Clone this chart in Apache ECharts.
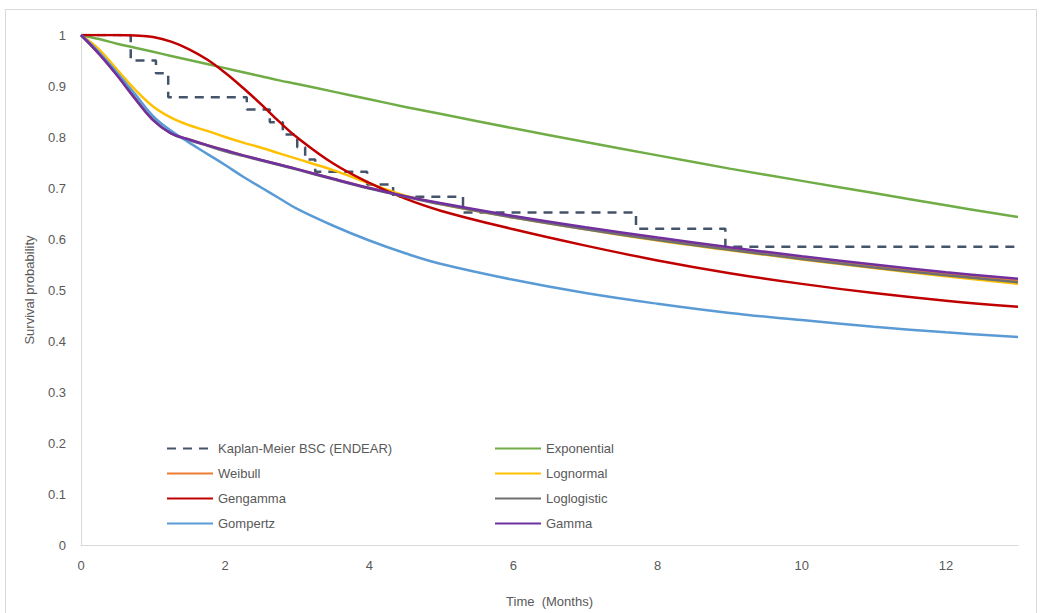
<!DOCTYPE html>
<html>
<head>
<meta charset="utf-8">
<script src="https://cdn.jsdelivr.net/npm/echarts@6/dist/echarts.min.js"></script>
<style>
  html, body { margin: 0; padding: 0; background: #ffffff; }
  #chart { width: 1041px; height: 613px; }
</style>
</head>
<body>
<div id="chart"></div>
<script>
// ---- Data ----
const kmTimes  = [0, 0.69, 1.04, 1.21, 2.30, 2.62, 2.80, 3.00, 3.11, 3.25, 3.97, 4.33, 5.30, 7.70, 8.94, 13];
const kmSurv   = [1, 0.950, 0.925, 0.878, 0.854, 0.829, 0.805, 0.780, 0.756, 0.732, 0.707, 0.683, 0.652, 0.620, 0.585, 0.585];

const fitTimes = [0, 0.25, 0.5, 0.75, 1, 1.25, 1.5, 1.75, 2, 2.25, 2.5, 2.75, 3, 3.5, 4, 4.5, 5, 6, 7, 8, 9, 10, 11, 12, 13];
const exponential = [1, 0.992, 0.983, 0.975, 0.967, 0.959, 0.951, 0.943, 0.935, 0.927, 0.919, 0.911, 0.904, 0.889, 0.874, 0.859, 0.845, 0.817, 0.790, 0.764, 0.738, 0.714, 0.690, 0.666, 0.643];
const weibull     = [1, 0.963, 0.921, 0.875, 0.833, 0.807, 0.795, 0.784, 0.774, 0.764, 0.755, 0.746, 0.737, 0.718, 0.700, 0.684, 0.669, 0.644, 0.621, 0.601, 0.582, 0.564, 0.548, 0.532, 0.518];
const lognormal   = [1, 0.972, 0.932, 0.893, 0.860, 0.838, 0.823, 0.812, 0.800, 0.789, 0.779, 0.768, 0.757, 0.735, 0.709, 0.685, 0.668, 0.642, 0.619, 0.597, 0.578, 0.560, 0.543, 0.527, 0.512];
const gengamma    = [1, 1.000, 1.000, 0.999, 0.996, 0.987, 0.972, 0.952, 0.926, 0.896, 0.864, 0.830, 0.799, 0.748, 0.710, 0.679, 0.655, 0.619, 0.587, 0.558, 0.533, 0.512, 0.494, 0.479, 0.467];
const loglogistic = [1, 0.964, 0.922, 0.877, 0.834, 0.807, 0.794, 0.783, 0.772, 0.763, 0.754, 0.745, 0.736, 0.717, 0.699, 0.683, 0.668, 0.642, 0.619, 0.598, 0.579, 0.561, 0.544, 0.529, 0.515];
const gompertz    = [1, 0.966, 0.926, 0.884, 0.841, 0.812, 0.789, 0.767, 0.745, 0.722, 0.701, 0.680, 0.659, 0.626, 0.597, 0.572, 0.551, 0.520, 0.494, 0.473, 0.455, 0.441, 0.428, 0.417, 0.408];
const gamma       = [1, 0.963, 0.921, 0.875, 0.833, 0.807, 0.795, 0.784, 0.774, 0.764, 0.755, 0.746, 0.737, 0.718, 0.700, 0.684, 0.670, 0.645, 0.623, 0.603, 0.584, 0.566, 0.550, 0.535, 0.522];

const xTicks = [0, 2, 4, 6, 8, 10, 12];
const yTicks = [0, 0.1, 0.2, 0.3, 0.4, 0.5, 0.6, 0.7, 0.8, 0.9, 1];

const names = {
  km: 'Kaplan-Meier BSC (ENDEAR)', exp: 'Exponential', wei: 'Weibull', logn: 'Lognormal',
  gg: 'Gengamma', ll: 'Loglogistic', gomp: 'Gompertz', gam: 'Gamma'
};

// ---- Build ----
const pair = (xs, ys) => xs.map((x, i) => [x, ys[i]]);
const FONT = 'Liberation Sans';
const TXT = '#595959';

function fit(name, color, ys) {
  return {
    name: name, type: 'line', data: pair(fitTimes, ys),
    smooth: 0.4, symbol: 'none', showSymbol: false,
    lineStyle: { color: color, width: 2.5 }, itemStyle: { color: color },
    emphasis: { disabled: true }, animation: false
  };
}

const legendBase = {
  orient: 'vertical', top: 442, itemWidth: 46, itemHeight: 14, itemGap: 12, padding: 0,
  itemStyle: { opacity: 0 },
  textStyle: { color: TXT, fontSize: 13, fontFamily: FONT },
  selectedMode: false
};

const chart = echarts.init(document.getElementById('chart'), null, { renderer: 'svg' });
chart.setOption({
  animation: false,
  backgroundColor: '#ffffff',
  textStyle: { fontFamily: FONT },
  graphic: [{
    type: 'rect', shape: { x: 5.5, y: 9.5, width: 1031, height: 610 },
    style: { fill: 'none', stroke: '#d9d9d9', lineWidth: 1 }, silent: true, z: -1
  }],
  grid: { left: 81, right: 23, top: 35, bottom: 68, containLabel: false },
  xAxis: {
    type: 'value', min: 0, max: 13, interval: 2,
    name: 'Time  (Months)', nameLocation: 'middle', nameGap: 50,
    nameTextStyle: { color: TXT, fontSize: 13, fontFamily: FONT },
    axisLine: { show: true, lineStyle: { color: '#d9d9d9', width: 1 } },
    axisTick: { show: false },
    splitLine: { show: false },
    axisLabel: {
      color: TXT, fontSize: 13, fontFamily: FONT, margin: 14,
      showMaxLabel: false,
      formatter: v => (xTicks.indexOf(v) >= 0 ? String(v) : '')
    }
  },
  yAxis: {
    type: 'value', min: 0, max: 1, interval: 0.1,
    name: 'Survival probability', nameLocation: 'middle', nameGap: 45,
    nameTextStyle: { color: TXT, fontSize: 13, fontFamily: FONT },
    axisLine: { show: true, lineStyle: { color: '#d9d9d9', width: 1 } },
    axisTick: { show: false },
    splitLine: { show: false },
    axisLabel: {
      color: TXT, fontSize: 13, fontFamily: FONT, margin: 15,
      formatter: v => {
        const t = yTicks.find(k => Math.abs(k - v) < 1e-6);
        return t === undefined ? '' : String(t);
      }
    }
  },
  legend: [
    Object.assign({}, legendBase, { left: 166, data: [names.km, names.wei, names.gg, names.gomp] }),
    Object.assign({}, legendBase, { left: 494, data: [names.exp, names.logn, names.ll, names.gam] })
  ],
  series: [
    {
      name: names.km, type: 'line', data: pair(kmTimes, kmSurv), step: 'end',
      symbol: 'none', showSymbol: false,
      lineStyle: { color: '#44546a', width: 2.5, type: [9, 7] }, itemStyle: { color: '#44546a' },
      emphasis: { disabled: true }, animation: false
    },
    fit(names.exp, '#70ad47', exponential),
    fit(names.wei, '#ed7d31', weibull),
    fit(names.logn, '#ffc000', lognormal),
    fit(names.gg, '#c00000', gengamma),
    fit(names.ll, '#6f6f6f', loglogistic),
    fit(names.gomp, '#5b9bd5', gompertz),
    fit(names.gam, '#7030a0', gamma)
  ]
});
</script>
</body>
</html>
